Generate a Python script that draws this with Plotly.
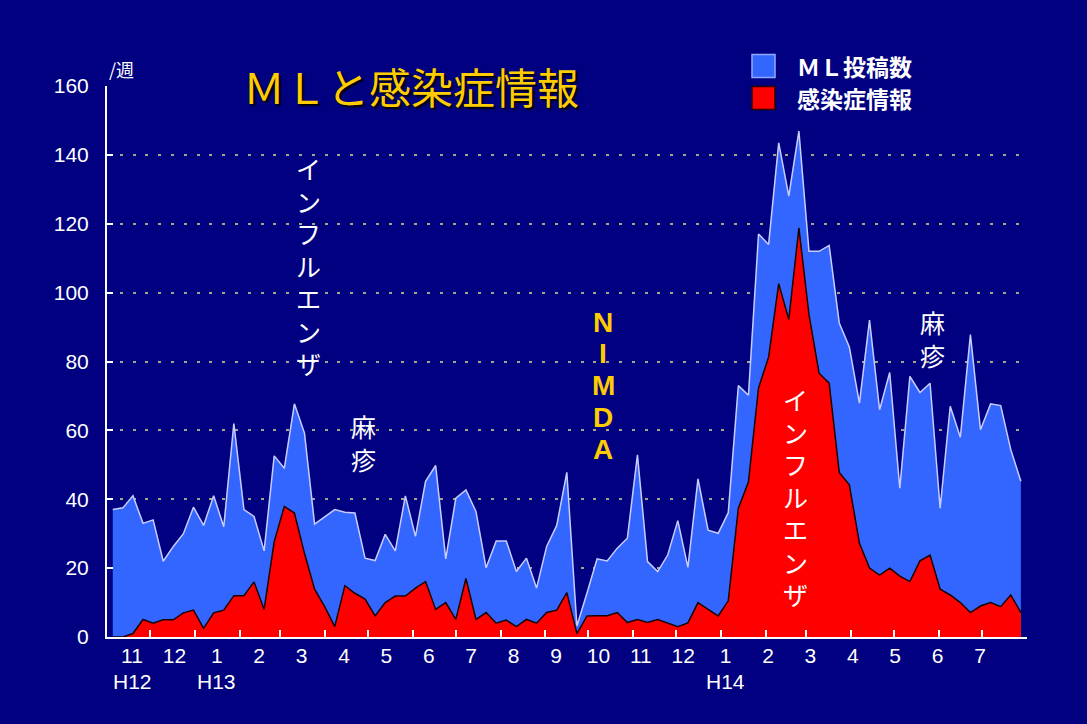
import numpy as np
import pandas as pd
import plotly.graph_objects as go

# ---------------- data (weekly, from first week of Nov H12) ----------------
ml_posts = [37, 37.5, 41, 33, 34, 22, 26.3, 30, 37.7, 32.4, 41, 32, 62, 37, 35, 25,
            52.6, 49, 67.7, 59.2, 32.8, 35, 37, 36.2,
            36, 22.9, 22.2, 29.8, 25, 41, 29.2, 45.2, 49.8, 22.7, 40.3, 42.7, 36.4, 20.1,
            27.9, 27.9, 19, 22.9, 14.2, 26.3, 32.4, 47.8, 3.2, 12.8,
            22.7, 22.1, 25.8, 28.7, 52.9, 21.9, 19, 23.8, 33.8, 20.2,
            45.9, 31, 30.1, 36.1, 73, 70.2, 117, 114, 143.5, 128,
            146.9, 112, 112, 113.7, 91.2, 84.2, 67.9, 92, 66, 76.8,
            43.2, 75.7, 71, 73.7, 37.4, 67, 58, 87.8, 60.2, 67.7,
            67.2, 54.4, 45.2]
infection = [0, 0, 1, 5.1, 4, 5, 5, 7, 7.8, 2.5, 7, 7.8, 12, 12, 16, 8,
             27.7, 37.9, 36, 24.3, 13.9, 8.8, 3, 14.9,
             12.7, 11, 6.1, 10, 11.9, 11.9, 14.2, 16.1, 8, 10, 5.1, 17, 5.1, 7.1,
             4, 4.9, 3, 5.1, 4, 7.1, 7.8, 12.9, 1, 6.1,
             6.2, 6.2, 7.1, 4.2, 5.1, 4.2, 5.1, 4, 3, 4.1,
             10, 8, 6.1, 10.5, 37.4, 45, 72.3, 81.3, 102.6, 92.2,
             118.8, 93.6, 76.6, 73.7, 47.8, 44.2, 27.2, 20, 18, 20,
             17.7, 16.1, 22.1, 23.8, 13.9, 12.2, 10, 7.1, 9, 10,
             8.8, 12.2, 7.1]
weeks = pd.date_range("2000-11-05", periods=len(ml_posts), freq="7D")

month_labels = ["11", "12", "1", "2", "3", "4", "5", "6", "7", "8", "9", "10",
                "11", "12", "1", "2", "3", "4", "5", "6", "7"]
era_labels = ["H12", "H13", "H14"]
era_at = [0, 2, 14]
series_names = ["ＭＬ投稿数", "感染症情報"]
title_text = "ＭＬと感染症情報"
unit_text = "/週"

# ---------------- layout helpers ----------------
W, H = 1087, 724
L, R, T, B = 107, 1027, 86, 637
x0 = pd.Timestamp("2000-11-01")
x1 = pd.Timestamp("2002-08-01 06:00")

def px(xp):
    return (xp - L) / (R - L)

def py(yp):
    return (B - yp) / (B - T)

def pdate(xp):
    return x0 + (x1 - x0) * ((xp - L) / (R - L))

NAVY = "#000080"
GOLD = "#FFCC00"
BLUE = "#3366FF"
RED = "#FF0000"
JP = "Noto Sans CJK JP"
NUM = "Liberation Sans, Arial, sans-serif"

label_px = np.linspace(132, 980, len(month_labels))
label_dates = [pdate(p) for p in label_px]
month_starts = pd.date_range("2000-12-01", "2002-08-01", freq="MS")

fig = go.Figure()
fig.add_trace(go.Scatter(x=weeks, y=ml_posts, name=series_names[0], mode="lines",
                         fill="tozeroy", fillcolor=BLUE,
                         line=dict(color="#C8CCFF", width=1.5), showlegend=False))
fig.add_trace(go.Scatter(x=weeks, y=infection, name=series_names[1], mode="lines",
                         fill="tozeroy", fillcolor=RED, xaxis="x2",
                         line=dict(color="#1A0000", width=1.5), showlegend=False))

annotations = []
for lab, idx in zip(era_labels, era_at):
    annotations.append(dict(x=px(label_px[idx]), y=py(681), xref="paper", yref="paper",
                            text=lab, showarrow=False, xanchor="center", yanchor="middle",
                            font=dict(family=NUM, size=21, color="white")))
annotations.append(dict(x=px(411), y=py(85), xref="paper", yref="paper", text=title_text,
                        showarrow=False, xanchor="center", yanchor="middle",
                        bgcolor=NAVY, borderpad=2,
                        font=dict(family=JP, size=42, color=GOLD,
                                  shadow="2px 2px 2px #000000")))
annotations.append(dict(x=px(121), y=py(69), xref="paper", yref="paper", text=unit_text,
                        showarrow=False, xanchor="center", yanchor="middle",
                        font=dict(family=JP, size=18, color="white")))

def vertical_block(text, xc, yc, size, color, family, weight="normal"):
    annotations.append(dict(x=px(xc), y=py(yc), xref="paper", yref="paper",
                            text="<br>".join(text), showarrow=False,
                            xanchor="center", yanchor="middle", align="center",
                            font=dict(family=family, size=size, color=color, weight=weight)))

def vertical_letters(text, xc, yc0, pitch, size, color, family, weight="normal"):
    for i, ch in enumerate(text):
        annotations.append(dict(x=px(xc), y=py(yc0 + i * pitch), xref="paper", yref="paper",
                                text=ch, showarrow=False, xanchor="center", yanchor="middle",
                                font=dict(family=family, size=size, color=color,
                                          weight=weight)))

vertical_block("インフルエンザ", 308, 265, 25, "white", JP)
vertical_block("麻疹", 363, 443, 25, "white", JP)
vertical_letters("NIMDA", 603, 322, 31.8, 28, GOLD, "Liberation Sans, Arial", "bold")
vertical_block("インフルエンザ", 795, 496, 25, "white", JP)
vertical_block("麻疹", 932, 338, 25, "white", JP)

shapes = []
leg = [(BLUE, "#90A8FF", 66, series_names[0]), (RED, "#300000", 98, series_names[1])]
for fillc, linec, yc, name in leg:
    shapes.append(dict(type="rect", xref="paper", yref="paper",
                       x0=px(752), x1=px(775), y0=py(yc + 11.5), y1=py(yc - 11.5),
                       fillcolor=fillc, line=dict(color=linec, width=1.5), layer="above"))
    annotations.append(dict(x=px(795), y=py(yc), xref="paper", yref="paper", text=name,
                            showarrow=False, xanchor="left", yanchor="middle",
                            font=dict(family=JP, size=23, color="white", weight="bold")))
shapes.append(dict(type="rect", xref="paper", yref="paper",
                   x0=px(684), x1=px(1040), y0=py(92), y1=py(80),
                   fillcolor=NAVY, line=dict(width=0), layer="between"))

fig.update_layout(
    width=W, height=H,
    margin=dict(l=L, r=W - R, t=T, b=H - B),
    paper_bgcolor=NAVY, plot_bgcolor=NAVY,
    showlegend=False,
    annotations=annotations, shapes=shapes,
    xaxis=dict(type="date", range=[x0, x1], showgrid=False, zeroline=False,
               showline=True, linecolor="white", linewidth=2,
               tickmode="array", tickvals=month_starts, showticklabels=False,
               ticks="inside", ticklen=7, tickwidth=2, tickcolor="white"),
    xaxis2=dict(type="date", range=[x0, x1], overlaying="x", side="bottom", anchor="y",
                showgrid=False, zeroline=False, showline=False,
                tickmode="array", tickvals=label_dates, ticktext=month_labels,
                ticks="", ticklabelstandoff=4,
                tickfont=dict(family=NUM, size=21, color="white")),
    yaxis=dict(range=[0, 160], dtick=20, tick0=0, showgrid=True,
               gridcolor="#A8A888", gridwidth=2, griddash="3px,9.8px",
               zeroline=False, showline=True, linecolor="white", linewidth=2,
               ticks="inside", ticklen=6, tickwidth=2, tickcolor="white",
               ticklabelstandoff=12,
               tickfont=dict(family=NUM, size=21, color="white")),
)

fig.write_html("out.html")
